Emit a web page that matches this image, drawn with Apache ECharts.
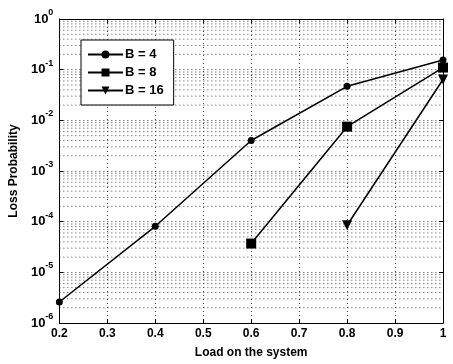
<!DOCTYPE html>
<html>
<head>
<meta charset="utf-8">
<script src="https://cdn.jsdelivr.net/npm/echarts@6/dist/echarts.min.js"></script>
<style>html,body{margin:0;padding:0;background:#fff}#c{width:453px;height:364px}</style>
</head>
<body>
<div id="c"></div>
<script>
const loads = [0.2, 0.4, 0.6, 0.8, 1.0];
const lossB4 = [2.6e-6, 8.1e-5, 4.0e-3, 4.7e-2, 1.55e-1];
const lossB8 = [null, null, 3.7e-5, 7.5e-3, 1.1e-1];
const lossB16 = [null, null, null, 8.5e-5, 6.4e-2];
const seriesNames = ['B = 4', 'B = 8', 'B = 16'];

const minorVals = [];
for (let e = -6; e < 0; e++) {
  for (let m = 2; m <= 9; m++) minorVals.push(m * Math.pow(10, e));
}
function pairs(ys) {
  const out = [];
  loads.forEach((x, i) => { if (ys[i] != null) out.push([x, ys[i]]); });
  return out;
}
const FONT = 'Liberation Sans';
const dotted = { color: '#444', type: [1, 3], width: 1 };
const gridSeries = minorVals.map(v => ({
  type: 'line', data: [[loads[0], v], [loads[loads.length - 1], v]],
  symbol: 'none', silent: true, lineStyle: dotted, z: 1, tooltip: { show: false }
}));
const chart = echarts.init(document.getElementById('c'));
chart.setOption({
  animation: false,
  backgroundColor: '#fff',
  grid: { left: 54, right: 10, top: 19, bottom: 41, show: false },
  legend: {
    orient: 'vertical', left: 81, top: 40,
    padding: [8, 10, 8, 6],
    itemWidth: 35, itemHeight: 10, itemGap: 5,
    borderColor: '#000', borderWidth: 1, backgroundColor: '#fff',
    textStyle: { fontFamily: FONT, fontWeight: 'bold', fontSize: 13, color: '#000', padding: [0, 0, 0, -3] },
    data: seriesNames
  },
  xAxis: [{
    type: 'value', min: 0.2, max: 1, interval: 0.1,
    name: 'Load on the system', nameLocation: 'middle', nameGap: 24,
    nameTextStyle: { fontFamily: FONT, fontWeight: 'bold', fontSize: 12, color: '#000' },
    axisLine: { show: true, lineStyle: { color: '#000', width: 1 } },
    axisTick: { show: true, inside: true, length: 4, lineStyle: { color: '#000' } },
    axisLabel: { fontFamily: FONT, fontWeight: 'bold', fontSize: 12, color: '#000', margin: 5,
      formatter: v => (Math.abs(v - 1) < 1e-9 ? '1' : v.toFixed(1)) },
    splitLine: { show: true, lineStyle: dotted }
  }, {
    type: 'value', min: 0.2, max: 1, interval: 0.1, position: 'top',
    axisLine: { show: true, onZero: false, lineStyle: { color: '#000', width: 1 } },
    axisTick: { show: true, inside: true, length: 4, lineStyle: { color: '#000' } },
    axisLabel: { show: false }, splitLine: { show: false }
  }],
  yAxis: [{
    type: 'log', logBase: 10, min: 1e-6, max: 1,
    name: 'Loss Probability', nameLocation: 'middle', nameGap: 36,
    nameTextStyle: { fontFamily: FONT, fontWeight: 'bold', fontSize: 12, color: '#000' },
    axisLine: { show: true, lineStyle: { color: '#000', width: 1 } },
    axisTick: { show: true, inside: true, length: 4, lineStyle: { color: '#000' } },
    axisLabel: {
      margin: 6,
      formatter: v => '{b|10}{s|' + Math.round(Math.log10(v)) + '}',
      rich: {
        b: { fontFamily: FONT, fontWeight: 'bold', fontSize: 13, color: '#000', lineHeight: 22, verticalAlign: 'middle' },
        s: { fontFamily: FONT, fontWeight: 'bold', fontSize: 9, color: '#000', lineHeight: 22, verticalAlign: 'top' }
      }
    },
    splitLine: { show: true, lineStyle: dotted }
  }, {
    type: 'log', logBase: 10, min: 1e-6, max: 1, position: 'right',
    axisLine: { show: true, onZero: false, lineStyle: { color: '#000', width: 1 } },
    axisTick: { show: true, inside: true, length: 4, lineStyle: { color: '#000' } },
    axisLabel: { show: false }, splitLine: { show: false }
  }],
  series: [{
    name: seriesNames[0], type: 'line', data: pairs(lossB4),
    symbol: 'circle', symbolSize: 7,
    lineStyle: { color: '#000', width: 1.5 }, itemStyle: { color: '#000' }, z: 3
  }, {
    name: seriesNames[1], type: 'line', data: pairs(lossB8),
    symbol: 'rect', symbolSize: 10,
    lineStyle: { color: '#000', width: 1.5 }, itemStyle: { color: '#000' }, z: 3
  }, {
    name: seriesNames[2], type: 'line', data: pairs(lossB16),
    symbol: 'triangle', symbolSize: 10, symbolRotate: 180,
    lineStyle: { color: '#000', width: 1.5 }, itemStyle: { color: '#000' }, z: 3
  }].concat(gridSeries)
});
</script>
</body>
</html>
